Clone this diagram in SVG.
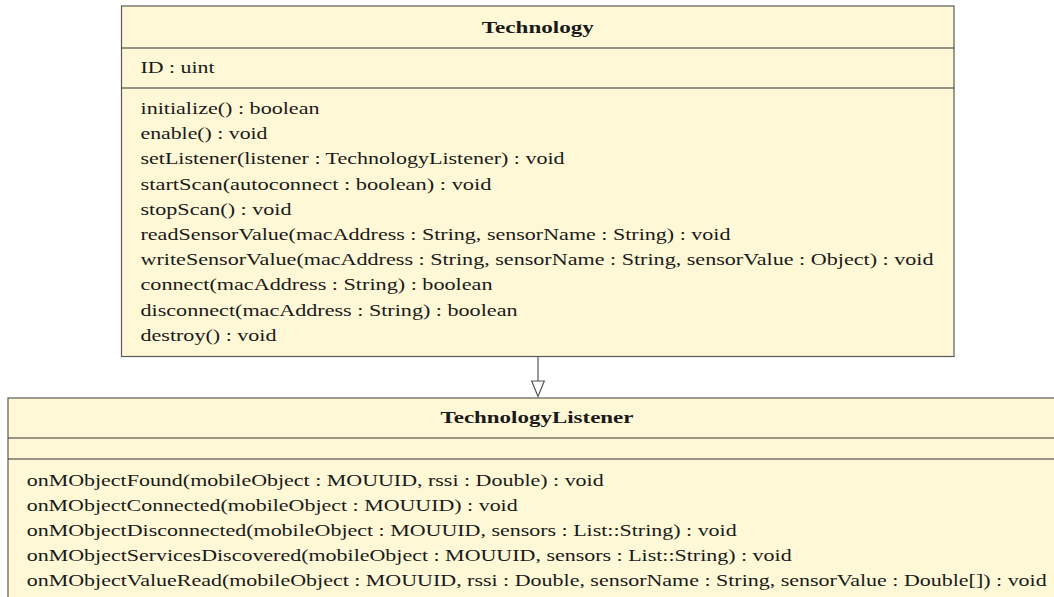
<svg xmlns="http://www.w3.org/2000/svg" width="1054" height="597" viewBox="0 0 1054 597">
  <style>
    .box { fill: #fef8d6; stroke: #5a5a5a; stroke-width: 1.2; }
    .sep { stroke: #333333; stroke-width: 1.2; }
    .t { font-family: "Liberation Serif", "DejaVu Serif", serif; font-size: 17px; fill: #1a1a1a; }
    .title { font-weight: bold; }
    .edge { stroke: #555555; stroke-width: 1.2; fill: none; }
    .head { fill: #ffffff; stroke: #555555; stroke-width: 1.2; }
  </style>
  <rect width="1054" height="597" fill="#ffffff"/>

  <!-- class Technology -->
  <g id="technology">
    <rect class="box" x="121.5" y="6" width="832.5" height="350.5"/>
    <line class="sep" x1="121.5" y1="48" x2="954" y2="48"/>
    <line class="sep" x1="121.5" y1="88" x2="954" y2="88"/>
    <text class="t title" x="481.8" y="32.5" textLength="112" lengthAdjust="spacingAndGlyphs">Technology</text>
    <text class="t" x="140.5" y="73" textLength="74" lengthAdjust="spacingAndGlyphs">ID : uint</text>
    <text class="t" x="140.5" y="114" textLength="179" lengthAdjust="spacingAndGlyphs">initialize() : boolean</text>
    <text class="t" x="140.5" y="139.2" textLength="127" lengthAdjust="spacingAndGlyphs">enable() : void</text>
    <text class="t" x="140.5" y="164.4" textLength="424" lengthAdjust="spacingAndGlyphs">setListener(listener : TechnologyListener) : void</text>
    <text class="t" x="140.5" y="189.6" textLength="351" lengthAdjust="spacingAndGlyphs">startScan(autoconnect : boolean) : void</text>
    <text class="t" x="140.5" y="214.8" textLength="151" lengthAdjust="spacingAndGlyphs">stopScan() : void</text>
    <text class="t" x="140.5" y="240" textLength="590" lengthAdjust="spacingAndGlyphs">readSensorValue(macAddress : String, sensorName : String) : void</text>
    <text class="t" x="140.5" y="265.2" textLength="793" lengthAdjust="spacingAndGlyphs">writeSensorValue(macAddress : String, sensorName : String, sensorValue : Object) : void</text>
    <text class="t" x="140.5" y="290.4" textLength="352" lengthAdjust="spacingAndGlyphs">connect(macAddress : String) : boolean</text>
    <text class="t" x="140.5" y="315.6" textLength="377" lengthAdjust="spacingAndGlyphs">disconnect(macAddress : String) : boolean</text>
    <text class="t" x="140.5" y="340.8" textLength="136" lengthAdjust="spacingAndGlyphs">destroy() : void</text>
  </g>

  <!-- class TechnologyListener (runs past the right and bottom edges) -->
  <g id="technology-listener">
    <rect class="box" x="8" y="398" width="1070" height="210"/>
    <line class="sep" x1="8" y1="438" x2="1078" y2="438"/>
    <line class="sep" x1="8" y1="459" x2="1078" y2="459"/>
    <text class="t title" x="440.5" y="422.7" textLength="193" lengthAdjust="spacingAndGlyphs">TechnologyListener</text>
    <text class="t" x="26.7" y="485.5" textLength="577" lengthAdjust="spacingAndGlyphs">onMObjectFound(mobileObject : MOUUID, rssi : Double) : void</text>
    <text class="t" x="26.7" y="510.5" textLength="491" lengthAdjust="spacingAndGlyphs">onMObjectConnected(mobileObject : MOUUID) : void</text>
    <text class="t" x="26.7" y="535.5" textLength="710" lengthAdjust="spacingAndGlyphs">onMObjectDisconnected(mobileObject : MOUUID, sensors : List::String) : void</text>
    <text class="t" x="26.7" y="560.5" textLength="765" lengthAdjust="spacingAndGlyphs">onMObjectServicesDiscovered(mobileObject : MOUUID, sensors : List::String) : void</text>
    <text class="t" x="26.7" y="585.5" textLength="1020" lengthAdjust="spacingAndGlyphs">onMObjectValueRead(mobileObject : MOUUID, rssi : Double, sensorName : String, sensorValue : Double[]) : void</text>
  </g>

  <!-- realization: Technology to TechnologyListener -->
  <g id="connectors">
    <line class="edge" x1="538" y1="356.5" x2="538" y2="381"/>
    <polygon class="head" points="531.7,381 544.3,381 538,396.5"/>
  </g>
</svg>
